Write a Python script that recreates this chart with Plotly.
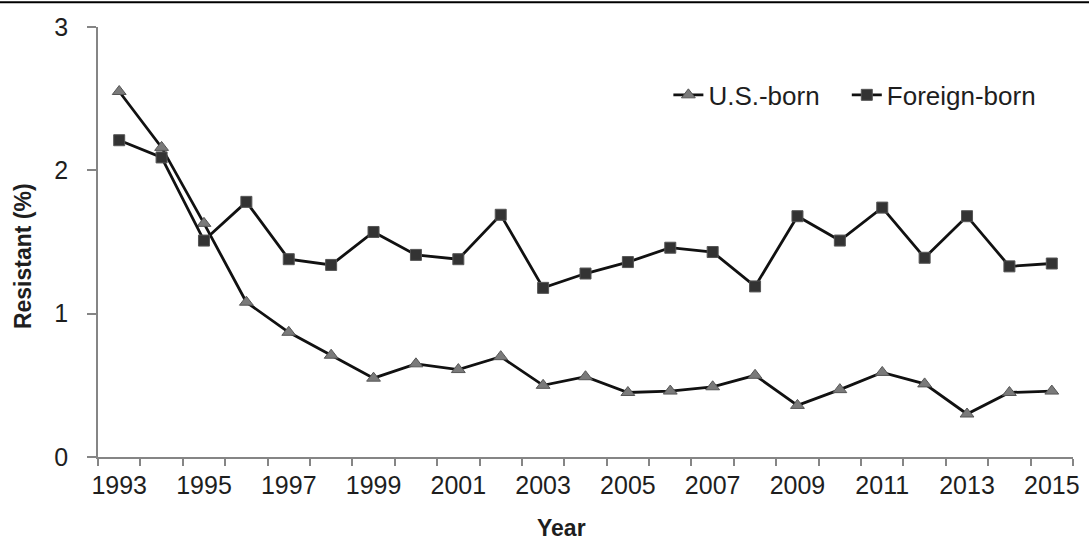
import plotly.graph_objects as go

years = list(range(1993, 2016))
us_born = [2.55, 2.16, 1.63, 1.08, 0.87, 0.71, 0.55, 0.65, 0.61, 0.70, 0.50, 0.56,
           0.45, 0.46, 0.49, 0.57, 0.36, 0.47, 0.59, 0.51, 0.30, 0.45, 0.46]
foreign_born = [2.21, 2.09, 1.51, 1.78, 1.38, 1.34, 1.57, 1.41, 1.38, 1.69, 1.18, 1.28,
                1.36, 1.46, 1.43, 1.19, 1.68, 1.51, 1.74, 1.39, 1.68, 1.33, 1.35]
x_tick_labels = [str(y) for y in range(1993, 2016, 2)]
y_ticks = [0, 1, 2, 3]

FONT = "Liberation Sans, Arial, sans-serif"
TXT = "#1e1e1e"
AXIS_GRAY = "#858585"

fig = go.Figure()
fig.add_trace(go.Scatter(
    x=years, y=us_born, name="U.S.-born", mode="lines+markers",
    line=dict(color="#111111", width=2.8),
    marker=dict(symbol="triangle-up", size=12, color="#7a7a7a",
                line=dict(color="#555555", width=1)),
    legend="legend",
))
fig.add_trace(go.Scatter(
    x=years, y=foreign_born, name="Foreign-born", mode="lines+markers",
    line=dict(color="#111111", width=2.8),
    marker=dict(symbol="square", size=11, color="#333333",
                line=dict(color="#555555", width=1)),
    legend="legend2",
))

leg_common = dict(orientation="h", yanchor="middle", xanchor="left",
                  font=dict(size=26, family=FONT, color=TXT),
                  bgcolor="rgba(0,0,0,0)", itemwidth=30)

fig.update_layout(
    width=1089, height=541,
    margin=dict(l=98, r=10, t=27, b=84),
    paper_bgcolor="white", plot_bgcolor="white",
    font=dict(family=FONT, color=TXT, size=25),
    showlegend=True,
    legend=dict(x=0.585, y=0.842, **leg_common),
    legend2=dict(x=0.768, y=0.842, **leg_common),
    xaxis=dict(
        range=[1992.5, 2015.5], tickmode="array",
        tickvals=[int(t) for t in x_tick_labels], ticktext=x_tick_labels,
        ticks="", showgrid=False, zeroline=False,
        showline=True, linecolor=AXIS_GRAY, linewidth=1.8,
        tickfont=dict(size=25, family=FONT, color=TXT),
        ticklabelstandoff=5,
        minor=dict(ticks="outside", tick0=1992.5, dtick=1, ticklen=7,
                   tickcolor=AXIS_GRAY, tickwidth=1.5, showgrid=False),
    ),
    yaxis=dict(
        range=[0, 3], tickmode="array", tickvals=y_ticks,
        ticks="outside", ticklen=9, tickcolor=AXIS_GRAY, tickwidth=1.5,
        showgrid=False, zeroline=False,
        showline=True, linecolor=AXIS_GRAY, linewidth=1.8,
        tickfont=dict(size=25, family=FONT, color=TXT),
        ticklabelstandoff=14,
    ),
    annotations=[
        dict(text="<b>Resistant (%)</b>", xref="paper", yref="paper",
             x=-0.077, y=0.467, xanchor="center", yanchor="middle", textangle=-90,
             showarrow=False, font=dict(size=23, family=FONT, color=TXT)),
        dict(text="<b>Year</b>", xref="paper", yref="paper",
             x=0.4755, y=-0.165, xanchor="center", yanchor="middle",
             showarrow=False, font=dict(size=23, family=FONT, color=TXT)),
    ],
    shapes=[dict(type="line", xref="paper", yref="paper", x0=-0.2, x1=1.1,
                 y0=1.0574, y1=1.0574, line=dict(color="black", width=2))],
)

fig.write_html("out.html", config={"displayModeBar": False},
               post_script="document.body.style.margin='0px';document.body.style.overflow='hidden';")
